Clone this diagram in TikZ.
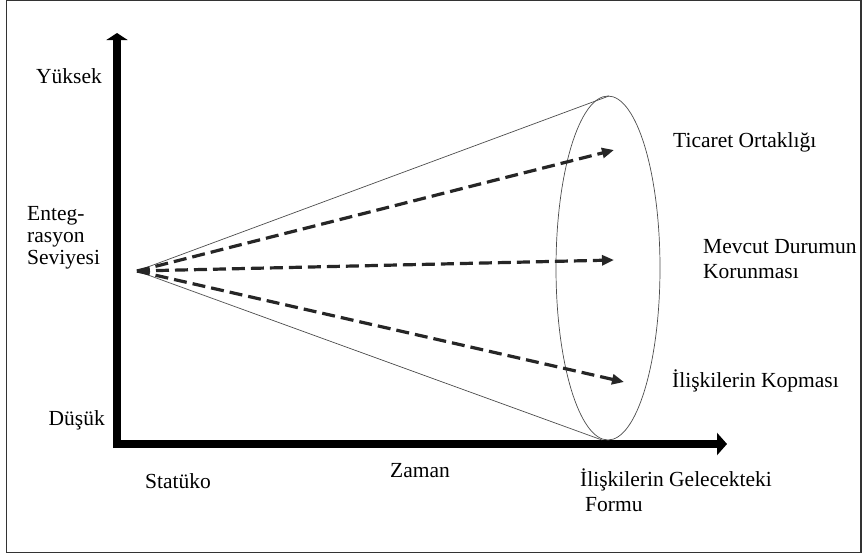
\documentclass[tikz,border=0pt]{standalone}
\usepackage{fontspec}
\setmainfont{Liberation Serif}
\usetikzlibrary{arrows.meta,shapes.geometric}
\begin{document}
\begin{tikzpicture}[x=1pt,y=-1pt,
  lbl/.style={inner sep=0pt,font=\fontsize{21.5}{25}\selectfont,align=left},
  axisline/.style={line width=7.5pt,black},
  conel/.style={line width=0.7pt,black!70},
  trend/.style={line width=3.2pt,black!85,dash pattern=on 13pt off 6pt,-{Triangle[length=12pt,width=10pt]}}]
\useasboundingbox (0,0) rectangle (862,555);
\draw[line width=1.3pt,black!80] (6.5,0.8) rectangle (861,552.5);
% axes
\coordinate (o) at (117,444);
\coordinate (ytop) at (117,33);
\coordinate (xend) at (727,444);
\draw[axisline,-{Triangle[width=21pt,length=7pt]}] (117,448) -- (ytop);
\draw[axisline,-{Triangle[width=22pt,length=10pt]}] (113,444) -- (xend);
% cone
\coordinate (apex) at (137,271);
\node[draw=black!70,line width=0.7pt,ellipse,minimum width=104pt,minimum height=344pt,inner sep=0pt] (ell) at (608,268) {};
\coordinate (etop) at (609,96);
\coordinate (ebot) at (602,440);
\draw[conel] (apex) -- (etop);
\draw[conel] (apex) -- (ebot);
% trends
\coordinate (t1) at (614,150);
\coordinate (t2) at (614,260);
\coordinate (t3) at (624,382);
\draw[trend] (apex) -- (t1);
\draw[trend] (apex) -- (t2);
\draw[trend] (apex) -- (t3);
% labels
\node[lbl,anchor=base east] (yuksek) at (102,83) {Yüksek};
\node[lbl,anchor=base east] (dusuk) at (105,425) {Düşük};
\node[lbl,anchor=north west,font=\fontsize{21.5}{22}\selectfont] (enteg) at (27,206) {Enteg-\\rasyon\\Seviyesi};
\node[lbl,anchor=base west] (statuko) at (145,488) {Statüko};
\node[lbl,anchor=base west] (zaman) at (390,477) {Zaman};
\node[lbl,anchor=north west] (gelecek) at (580,469) {İlişkilerin Gelecekteki\\\hspace*{5pt}Formu};
\node[lbl,anchor=base west] (ticaret) at (673,147) {Ticaret Ortaklığı};
\node[lbl,anchor=north west] (mevcut) at (703,239) {Mevcut Durumun\\Korunması};
\node[lbl,anchor=base west] (kopma) at (672,387) {İlişkilerin Kopması};
\end{tikzpicture}
\end{document}
